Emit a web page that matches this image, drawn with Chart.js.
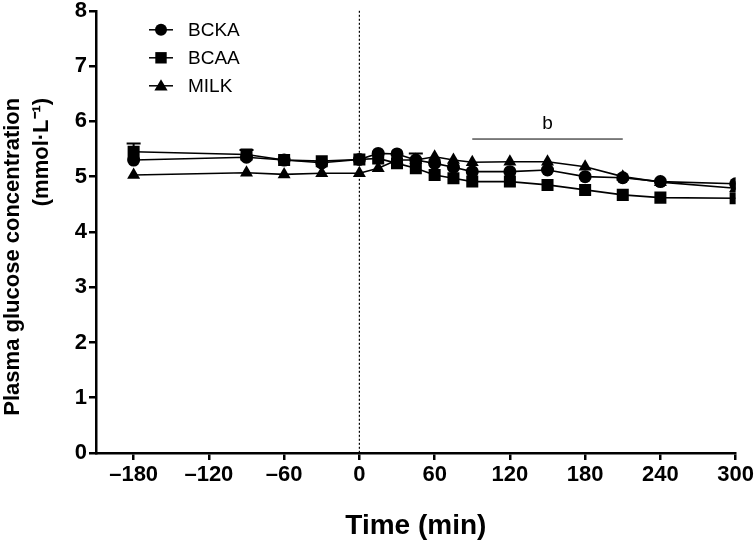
<!DOCTYPE html>
<html>
<head>
<meta charset="utf-8">
<script src="https://cdn.jsdelivr.net/npm/chart.js@4.4.1/dist/chart.umd.min.js"></script>
<style>
html, body { margin: 0; padding: 0; background: #fff; }
#wrap { width: 756px; height: 543px; }
</style>
</head>
<body>
<div id="wrap"><canvas id="graficoGlucosa"></canvas></div>
<script>
// tiempos de muestreo (min) y concentraciones (mmol/L)
var tiempos = [-180, -90, -60, -30, 0, 15, 30, 45, 60, 75, 90, 120, 150, 180, 210, 240, 300];
var bcka = [5.30, 5.35, 5.30, 5.25, 5.31, 5.42, 5.41, 5.30, 5.24, 5.17, 5.09, 5.09, 5.12, 5.00, 4.98, 4.91, 4.87];
var bcaa = [5.45, 5.40, 5.30, 5.28, 5.31, 5.33, 5.24, 5.15, 5.03, 4.97, 4.91, 4.91, 4.85, 4.76, 4.67, 4.62, 4.61];
var milk = [5.03, 5.07, 5.04, 5.06, 5.06, 5.15, 5.30, 5.30, 5.36, 5.30, 5.26, 5.27, 5.27, 5.18, 5.00, 4.90, 4.79];
// error estandar (solo los visibles sobre los marcadores)
var semBcka = [0, 0, 0, 0, 0, 0, 0, 0, 0, 0, 0, 0, 0, 0, 0, 0, 0];
var semBcaa = [0.15, 0.08, 0, 0, 0, 0, 0, 0.27, 0, 0, 0, 0, 0, 0, 0, 0, 0];
var semMilk = [0, 0, 0, 0, 0, 0, 0, 0, 0, 0, 0, 0, 0, 0, 0, 0, 0];
var ticksX = [-180, -120, -60, 0, 60, 120, 180, 240, 300];
var nombres = ['BCKA', 'BCAA', 'MILK'];
var marcadores = ['circle', 'rect', 'triangle'];
var tituloX = 'Time (min)';
var tituloY = ['Plasma glucose concentration', '(mmol\u00b7L\u207b\u00b9)'];
// periodo con diferencia significativa (b)
var periodoB = [90, 210];
var nivelB = 5.68;

function puntos(valores) {
    return tiempos.map(function (t, i) { return { x: t, y: valores[i] }; });
}

function dibujarMarcador(ctx, estilo, x, y, r) {
    ctx.beginPath();
    if (estilo === 'circle') {
        ctx.arc(x, y, r, 0, Math.PI * 2);
    } else if (estilo === 'rect') {
        var s = r * 0.95;
        ctx.rect(x - s, y - s, s * 2, s * 2);
    } else {
        ctx.moveTo(x, y - r * 1.1);
        ctx.lineTo(x + r * 1.1, y + r * 0.8);
        ctx.lineTo(x - r * 1.1, y + r * 0.8);
        ctx.closePath();
    }
    ctx.fill();
}

var errores = [semBcka, semBcaa, semMilk];
var fuenteEje = '"Liberation Sans", Arial, sans-serif';

var pluginExtras = {
    id: 'extras',
    beforeDatasetsDraw: function (chart) {
        var ctx = chart.ctx;
        var x = chart.scales.x, y = chart.scales.y;
        // linea punteada en t = 0
        ctx.save();
        ctx.strokeStyle = '#000';
        ctx.lineWidth = 1.2;
        ctx.setLineDash([2, 2]);
        ctx.beginPath();
        ctx.moveTo(x.getPixelForValue(0), y.getPixelForValue(8));
        ctx.lineTo(x.getPixelForValue(0), y.getPixelForValue(0));
        ctx.stroke();
        ctx.restore();
        // barras de error
        ctx.save();
        ctx.strokeStyle = '#000';
        ctx.lineWidth = 2;
        chart.data.datasets.forEach(function (ds, d) {
            errores[d].forEach(function (e, i) {
                if (!e) return;
                var px = x.getPixelForValue(tiempos[i]);
                var p0 = y.getPixelForValue(ds.data[i].y);
                var p1 = y.getPixelForValue(ds.data[i].y + e);
                ctx.beginPath();
                ctx.moveTo(px, p0);
                ctx.lineTo(px, p1);
                ctx.moveTo(px - 7, p1);
                ctx.lineTo(px + 7, p1);
                ctx.stroke();
            });
        });
        ctx.restore();
    },
    afterDraw: function (chart) {
        var ctx = chart.ctx;
        var x = chart.scales.x, y = chart.scales.y;
        var area = chart.chartArea;
        ctx.save();
        ctx.fillStyle = '#000';
        ctx.strokeStyle = '#000';
        // titulos de los ejes
        ctx.font = 'bold 28px ' + fuenteEje;
        ctx.textAlign = 'center';
        ctx.textBaseline = 'alphabetic';
        ctx.fillText(tituloX, (area.left + area.right) / 2, chart.height - 9);
        ctx.save();
        ctx.translate(0, area.top + 87);
        ctx.rotate(-Math.PI / 2);
        ctx.font = 'bold 22px ' + fuenteEje;
        ctx.textAlign = 'right';
        ctx.textBaseline = 'middle';
        ctx.fillText(tituloY[0], 0, 13);
        ctx.fillText(tituloY[1], 0, 42);
        ctx.restore();
        // anotacion b
        ctx.lineWidth = 1;
        ctx.beginPath();
        ctx.moveTo(x.getPixelForValue(periodoB[0]), y.getPixelForValue(nivelB));
        ctx.lineTo(x.getPixelForValue(periodoB[1]), y.getPixelForValue(nivelB));
        ctx.stroke();
        ctx.font = '19px ' + fuenteEje;
        ctx.textAlign = 'center';
        ctx.textBaseline = 'bottom';
        ctx.fillText('b', x.getPixelForValue((periodoB[0] + periodoB[1]) / 2), y.getPixelForValue(nivelB) - 6);
        // leyenda
        ctx.textAlign = 'left';
        ctx.textBaseline = 'middle';
        ctx.lineWidth = 1.5;
        nombres.forEach(function (n, i) {
            var cx = area.left + 65;
            var cy = area.top + 19 + i * 28;
            ctx.beginPath();
            ctx.moveTo(cx - 12, cy);
            ctx.lineTo(cx + 12, cy);
            ctx.stroke();
            dibujarMarcador(ctx, marcadores[i], cx, cy, 6);
            ctx.fillText(n, cx + 27, cy + 1);
        });
        ctx.restore();
    }
};

var ctx = document.getElementById('graficoGlucosa').getContext('2d');
var graficoGlucosa = new Chart(ctx, {
    type: 'line',
    data: {
        datasets: [{
            label: nombres[0],
            data: puntos(bcka),
            pointStyle: 'circle',
            pointRadius: 6.5
        }, {
            label: nombres[1],
            data: puntos(bcaa),
            pointStyle: 'rect',
            pointRadius: 8.5
        }, {
            label: nombres[2],
            data: puntos(milk),
            pointStyle: 'triangle',
            pointRadius: 7.5
        }].map(function (ds) {
            ds.borderColor = '#000';
            ds.backgroundColor = '#000';
            ds.pointBackgroundColor = '#000';
            ds.pointBorderColor = '#000';
            ds.pointBorderWidth = 0;
            ds.borderWidth = 1.6;
            ds.tension = 0;
            return ds;
        })
    },
    options: {
        responsive: true,
        maintainAspectRatio: false,
        animation: false,
        layout: { padding: { top: 10, right: 19, left: 0, bottom: 0 } },
        plugins: {
            legend: { display: false },
            tooltip: { enabled: false }
        },
        scales: {
            x: {
                type: 'linear',
                min: -210,
                max: 300,
                afterBuildTicks: function (s) {
                    s.ticks = ticksX.map(function (v) { return { value: v }; });
                },
                afterFit: function (s) { s.height = 90; },
                border: { color: '#000', width: 2.5 },
                grid: { drawOnChartArea: false, color: '#000', lineWidth: 2.5, tickLength: 7 },
                ticks: {
                    color: '#000',
                    padding: 2,
                    maxRotation: 0,
                    font: { family: fuenteEje, size: 22, weight: 'bold' },
                    callback: function (v) { return v < 0 ? '\u2013' + Math.abs(v) : String(v); }
                }
            },
            y: {
                min: 0,
                max: 8,
                afterFit: function (s) { s.width = 96; },
                border: { color: '#000', width: 2.5 },
                grid: { drawOnChartArea: false, color: '#000', lineWidth: 2.5, tickLength: 7 },
                ticks: {
                    stepSize: 1,
                    color: '#000',
                    padding: 2,
                    font: { family: fuenteEje, size: 22, weight: 'bold', lineHeight: 0.8 }
                }
            }
        }
    },
    plugins: [pluginExtras]
});
</script>
</body>
</html>
